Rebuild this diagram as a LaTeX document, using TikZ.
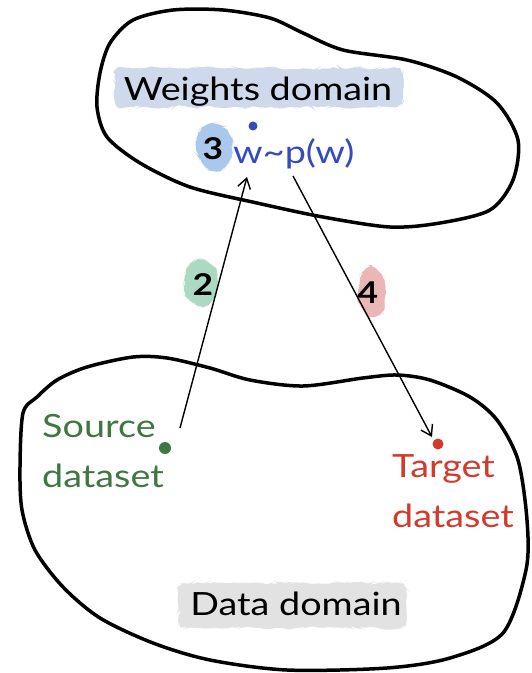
\documentclass[tikz,border=0pt]{standalone}
\usepackage{fontspec}
\setmainfont{Lato}[FakeStretch=1.18]
\usetikzlibrary{arrows.meta,decorations.pathmorphing}

\definecolor{wblue}{RGB}{52,74,190}
\definecolor{hlweights}{RGB}{206,217,236}
\definecolor{hlthree}{RGB}{170,200,236}
\definecolor{srcgreen}{RGB}{62,120,64}
\definecolor{hlgreen}{RGB}{172,216,196}
\definecolor{tgtred}{RGB}{210,58,44}
\definecolor{hlred}{RGB}{234,182,182}
\definecolor{hlgray}{RGB}{226,226,226}

\begin{document}
\begin{tikzpicture}[x=1pt,y=-1pt]
        \tikzset{blob/.style={line width=3.5pt, line join=round},
            txt/.style={font=\fontsize{32}{50}\selectfont, inner sep=0pt},
            hl/.style={fill=#1, decorate, decoration={random steps,segment length=5pt,amplitude=2pt},
                rounded corners=6pt},
            stepnum/.style={font=\fontsize{30}{36}\selectfont\bfseries, inner sep=0pt},
            dot/.style 2 args={circle, fill=#1, inner sep=0pt, minimum size=#2},
            arr/.style={line width=1.4pt, -{Straight Barb[length=10pt,width=13pt,line width=1.4pt]}}}
        \useasboundingbox (0,0) rectangle (531,673);

        % weights domain
        \draw[blob] plot[smooth cycle] coordinates {(100,73) (110,43) (133,20) (173,10) (223,10)
            (270,18) (303,33) (343,50) (407,60) (457,77) (497,103) (518,140) (513,180) (490,210)
            (440,223) (390,227) (323,217) (257,203) (190,187) (140,163) (107,137) (97,107)};
        % data domain
        \draw[blob] plot[smooth cycle] coordinates {(20,467) (23,413) (37,397) (57,380) (87,367)
            (133,357) (167,358) (210,368) (250,380) (303,386) (363,378) (397,375) (430,380)
            (470,397) (497,420) (518,460) (527,520) (526,570) (503,633) (450,658) (387,668)
            (287,670) (210,660) (153,643) (100,618) (63,587) (35,550) (22,510)};

        % highlights
        \fill[hl=hlweights] (115,68) rectangle (402,107);
        \fill[hl=hlthree] (214,147) ellipse [x radius=18pt, y radius=24pt];
        \fill[hl=hlgreen] (201,283) ellipse [x radius=17pt, y radius=23pt];
        \fill[hl=hlred] (372,292) ellipse [x radius=14pt, y radius=25pt];
        \fill[hl=hlgray] (178,583) rectangle (406,628);

        \node[txt, anchor=base] (weights) at (258,100) {Weights domain};
        \node[txt, anchor=base west, text=wblue] (wp) at (233,163) {w\textasciitilde p(w)};
        \node[stepnum] (three) at (213,149) {3};
        \node[dot={wblue}{9pt}] (wdot) at (253,126) {};

        \node[txt, anchor=base west, text=srcgreen, align=left] (source) at (42,487)
            {Source\\dataset};
        \node[dot={srcgreen}{12pt}] (srcdot) at (165,448) {};
        \node[txt, anchor=base west, text=tgtred, align=left] (target) at (392,527)
            {Target\\dataset};
        \node[dot={tgtred}{11pt}] (tgtdot) at (438,444) {};
        \node[txt, anchor=base] (data) at (296,615) {Data domain};

        \node[stepnum] (two) at (203,285) {2};
        \node[stepnum] (four) at (368,293) {4};

        \coordinate (srcfoot) at (180,428);
        \coordinate (wfoot) at (247,177);
        \coordinate (pfoot) at (293,176);
        \coordinate (tgthead) at (432,437);
        \draw[arr] (srcfoot) -- (wfoot);
        \draw[arr] (pfoot) -- (tgthead);
\end{tikzpicture}
\end{document}
